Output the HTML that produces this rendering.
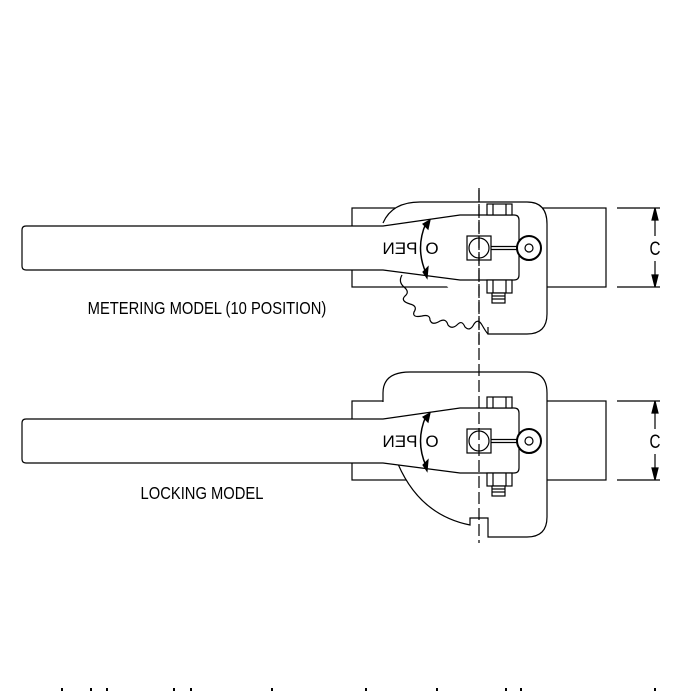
<!DOCTYPE html>
<html><head><style>html,body{margin:0;padding:0;background:#fff}</style></head><body>
<svg width="691" height="691" viewBox="0 0 691 691" xmlns="http://www.w3.org/2000/svg" fill="none" stroke="#000" stroke-width="1.2" font-family="Liberation Sans, sans-serif">
<defs>
<g id="common">
  <rect x="352" y="208" width="254" height="79" fill="#fff"/>
</g>
<g id="inner">
  <path d="M383,226 L26,226 Q22,226 22,230 L22,266 Q22,270 26,270 L383,270 L460,280 L514,280 Q519,280 519,275 L519,220 Q519,215 514,215 L460,215 Z" fill="#fff"/>
  <rect x="487" y="204" width="25" height="11" fill="#fff"/>
  <line x1="493" y1="204" x2="493" y2="215"/><line x1="506" y1="204" x2="506" y2="215"/>
  <rect x="487" y="280" width="25" height="13" fill="#fff"/>
  <line x1="493" y1="280" x2="493" y2="293"/><line x1="506" y1="280" x2="506" y2="293"/>
  <rect x="492" y="293" width="13" height="10" fill="#fff"/>
  <line x1="492" y1="296" x2="505" y2="296"/><line x1="492" y1="299" x2="505" y2="299"/>
  <rect x="467" y="236" width="24" height="24" fill="#fff"/>
  <circle cx="479" cy="248" r="10"/>
  <line x1="491" y1="246.5" x2="519" y2="246.5"/><line x1="491" y1="249.5" x2="519" y2="249.5"/>
  <circle cx="529" cy="248" r="12" stroke-width="2" fill="#fff"/>
  <circle cx="529" cy="248" r="4"/>
  <path d="M426,223 Q415,248 426,273" stroke-width="1.5"/>
  <path d="M423,224 L430,220 L428,229 Z M423,272 L428,267 L427,278 Z" fill="#000"/>
  <text x="400" y="254" font-size="17" stroke="none" fill="#000" transform="translate(800,0) scale(-1,1)" text-anchor="middle">PEN</text>
  <text x="432" y="254" font-size="17" stroke="none" fill="#000" text-anchor="middle">O</text>
  <line x1="617" y1="208" x2="660" y2="208"/><line x1="617" y1="287" x2="660" y2="287"/>
  <line x1="655" y1="208" x2="655" y2="236"/><line x1="655" y1="261" x2="655" y2="287"/>
  <path d="M652,220 L655,208 L658,220 Z M652,275 L655,287 L658,275 Z" fill="#000"/>
  <text x="655" y="255" font-size="19" stroke="none" fill="#000" text-anchor="middle" transform="translate(655,0) scale(0.8,1) translate(-655,0)">C</text>
</g>
</defs>

<use href="#common"/>
<path d="M383,223 Q392,202 420,202 L527,202 Q547,202 547,224 L547,314 Q547,334 527,334 L488,334 L488,327" fill="#fff"/>
<path d="M402,275 Q398,282 404,287 Q410,292 405,296 Q400,301 410,304 Q418,306 414,312 Q412,318 422,316 Q430,314 430,320 Q432,326 440,321 Q446,318 448,325 Q452,330 458,324 Q462,320 465,327 Q470,332 474,324 Q478,318 482,325 Q486,332 488,334"/>
<use href="#inner"/>
<line x1="479" y1="190" x2="479" y2="345" stroke-dasharray="12,4"/>
<text x="207" y="314" font-size="18" stroke="none" fill="#000" text-anchor="middle" transform="translate(207,0) scale(0.82,1) translate(-207,0)">METERING MODEL (10 POSITION)</text>

<g transform="translate(0,193)">
<use href="#common"/>
<path d="M383,209 L383,200 Q383,179 410,179 L527,179 Q547,179 547,200 L547,324 Q547,344 527,344 L488,344 L488,325 L470,325 L470,332 Q420,322 398,271" fill="#fff"/>
<use href="#inner"/>
<line x1="479" y1="-5" x2="479" y2="350" stroke-dasharray="12,4"/>
<text x="202" y="306" font-size="18" stroke="none" fill="#000" text-anchor="middle" transform="translate(202,0) scale(0.82,1) translate(-202,0)">LOCKING MODEL</text>
</g>

<g fill="#000" stroke="none">
<rect x="61" y="688" width="2" height="3"/><rect x="90" y="688" width="2" height="3"/><rect x="106" y="688" width="2" height="3"/>
<rect x="173" y="688" width="2" height="3"/><rect x="190" y="688" width="2" height="3"/><rect x="271" y="688" width="2" height="3"/>
<rect x="365" y="688" width="2" height="3"/><rect x="436" y="688" width="2" height="3"/><rect x="505" y="688" width="2" height="3"/>
<rect x="520" y="688" width="2" height="3"/><rect x="654" y="688" width="2" height="3"/>
</g>
</svg>
</body></html>
